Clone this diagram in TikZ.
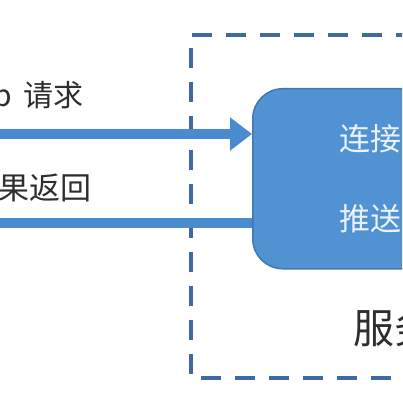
\documentclass[tikz,border=0pt]{standalone}
\usepackage{fontspec}
\setmainfont{Noto Sans CJK SC}
\usetikzlibrary{arrows.meta}
\definecolor{flow}{HTML}{4A8BD0}
\definecolor{boxfill}{HTML}{5193D2}
\definecolor{boxedge}{HTML}{3F78B6}
\definecolor{dashc}{HTML}{3E68A6}
\definecolor{intext}{HTML}{EAF2FA}
\definecolor{outtext}{HTML}{2E2E2E}
\tikzset{
  serverbox/.style={draw=boxedge, line width=1.5pt, fill=boxfill, rounded corners=30pt, inner sep=0pt},
  dashframe/.style={draw=dashc, line width=4pt, dash pattern=on 20pt off 14pt},
  flowline/.style={draw=flow, line width=10pt},
  lbl/.style={inner sep=0pt, text=outtext, font=\fontsize{30}{32}\selectfont},
  inlbl/.style={inner sep=0pt, text=intext, font=\fontsize{31}{33}\selectfont},
}
\begin{document}
\begin{tikzpicture}[x=1pt,y=-1pt]
\useasboundingbox (0,0) rectangle (402,403);
\clip (0,0) rectangle (402,403);
\fill[white] (0,0) rectangle (402,403);
% dashed frame
\draw[dashframe] (450,35) -- (191,35) -- (191,378) -- (450,378);
% server box
\node[serverbox, minimum width=200pt, minimum height=180pt, anchor=north west] (box) at (252,88) {};
% connectors
\coordinate (reqstart) at (-20,134);
\coordinate (retend) at (-20,223);
\draw[flowline, -{Triangle[length=22pt,width=32pt]}] (reqstart) -- (reqstart -| box.west);
\draw[flowline] (retend -| box.west) -- (retend);
% labels
\node[lbl, anchor=east] (req) at (84,97) {http\kern12pt 请求};
\node[lbl, anchor=east, font=\fontsize{31}{33}\selectfont] (ret) at (92,188) {结果返回};
\node[inlbl, anchor=west] (conn) at (339,139) {连接管理};
\node[inlbl, anchor=west] (push) at (339,219) {推送消息};
\node[lbl, anchor=west, font=\fontsize{41}{43}\selectfont] (srv) at (353,328) {服务器};
\end{tikzpicture}
\end{document}
